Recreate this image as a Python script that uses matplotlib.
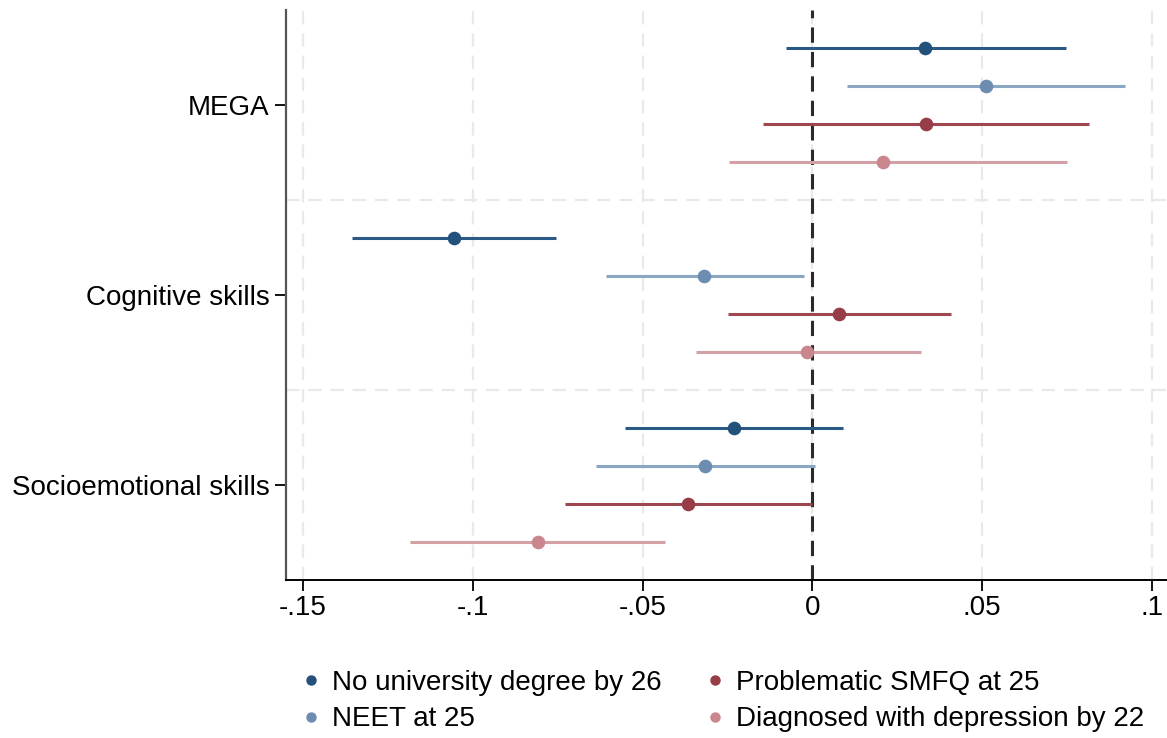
import numpy as np
import matplotlib
matplotlib.use("Agg")
import matplotlib.pyplot as plt
from matplotlib.lines import Line2D

plt.rcParams['font.family'] = ['Liberation Sans', 'DejaVu Sans']

# coefficient estimates with 95% confidence intervals
groups = ['MEGA', 'Cognitive skills', 'Socioemotional skills']
outcomes = ['No university degree by 26', 'NEET at 25',
            'Problematic SMFQ at 25', 'Diagnosed with depression by 22']

coef = {
    'No university degree by 26':      [0.0332, -0.1056, -0.0232],
    'NEET at 25':                      [0.0512, -0.0318, -0.0315],
    'Problematic SMFQ at 25':          [0.0335, 0.0079, -0.0365],
    'Diagnosed with depression by 22': [0.0209, -0.0015, -0.0809],
}
lower = {
    'No university degree by 26':      [-0.0079, -0.1356, -0.0553],
    'NEET at 25':                      [0.0103, -0.0609, -0.0638],
    'Problematic SMFQ at 25':          [-0.0147, -0.0250, -0.0729],
    'Diagnosed with depression by 22': [-0.0247, -0.0344, -0.1185],
}
upper = {
    'No university degree by 26':      [0.0747, -0.0756, 0.0091],
    'NEET at 25':                      [0.0921, -0.0026, 0.0009],
    'Problematic SMFQ at 25':          [0.0815, 0.0409, 0.0000],
    'Diagnosed with depression by 22': [0.0750, 0.0321, -0.0435],
}

xticks = [-0.15, -0.1, -0.05, 0, 0.05, 0.1]
xticklabels = ['-.15', '-.1', '-.05', '0', '.05', '.1']

line_colors = ['#2b5986', '#8ba6c2', '#a0464f', '#d3a0a5']
dot_colors = ['#24507c', '#6d8db0', '#973d47', '#c9868d']

fig = plt.figure(figsize=(11.67, 7.38), dpi=100)
ax = fig.add_axes([286 / 1167, 158 / 738, 881 / 1167, 570 / 738])

# vertical grid and group separators
for t in xticks:
    ax.axvline(t, color='#e9e9e9', lw=1.6, ls=(0, (6, 4)), zorder=0)
for s in [4, 9]:
    ax.axhline(s, color='#e9e9e9', lw=1.6, ls=(0, (6, 4)), zorder=0)
ax.axvline(0, color='#2a2a2a', lw=2.2, ls=(0, (5, 3)), zorder=1)

for k, name in enumerate(outcomes):
    ys = np.array([0, 5, 10]) + k
    ax.hlines(ys, lower[name], upper[name], color=line_colors[k], lw=2.2, zorder=2)
    ax.plot(coef[name], ys, 'o', color=dot_colors[k], ms=8.8,
            mec=dot_colors[k], zorder=3)

ax.set_xlim(-0.155, 0.1044)
ax.set_ylim(14, -1)
ax.set_xticks(xticks)
ax.set_xticklabels(xticklabels, fontsize=20)
ax.set_yticks([1.5, 6.5, 11.5])
ax.set_yticklabels(groups, fontsize=20)
ax.tick_params(axis='x', length=8, width=1.3, pad=3)
ax.tick_params(axis='y', length=8, width=1.3, pad=4)

ax.spines['top'].set_visible(False)
ax.spines['right'].set_visible(False)
ax.spines['left'].set_color('#555555')
ax.spines['left'].set_linewidth(1.6)
ax.spines['bottom'].set_linewidth(1.4)

handles = [Line2D([], [], ls='none', marker='o', ms=6.5, color=c) for c in dot_colors]
fig.legend(handles, outcomes,
           ncol=2, loc='upper left', bbox_to_anchor=(303 / 1167, 1 - 670 / 738),
           frameon=False, fontsize=20, handlelength=0.6, handletextpad=0.45,
           columnspacing=1.62, labelspacing=0.37, borderpad=0, borderaxespad=0)

fig.savefig('out.png', dpi=100)
